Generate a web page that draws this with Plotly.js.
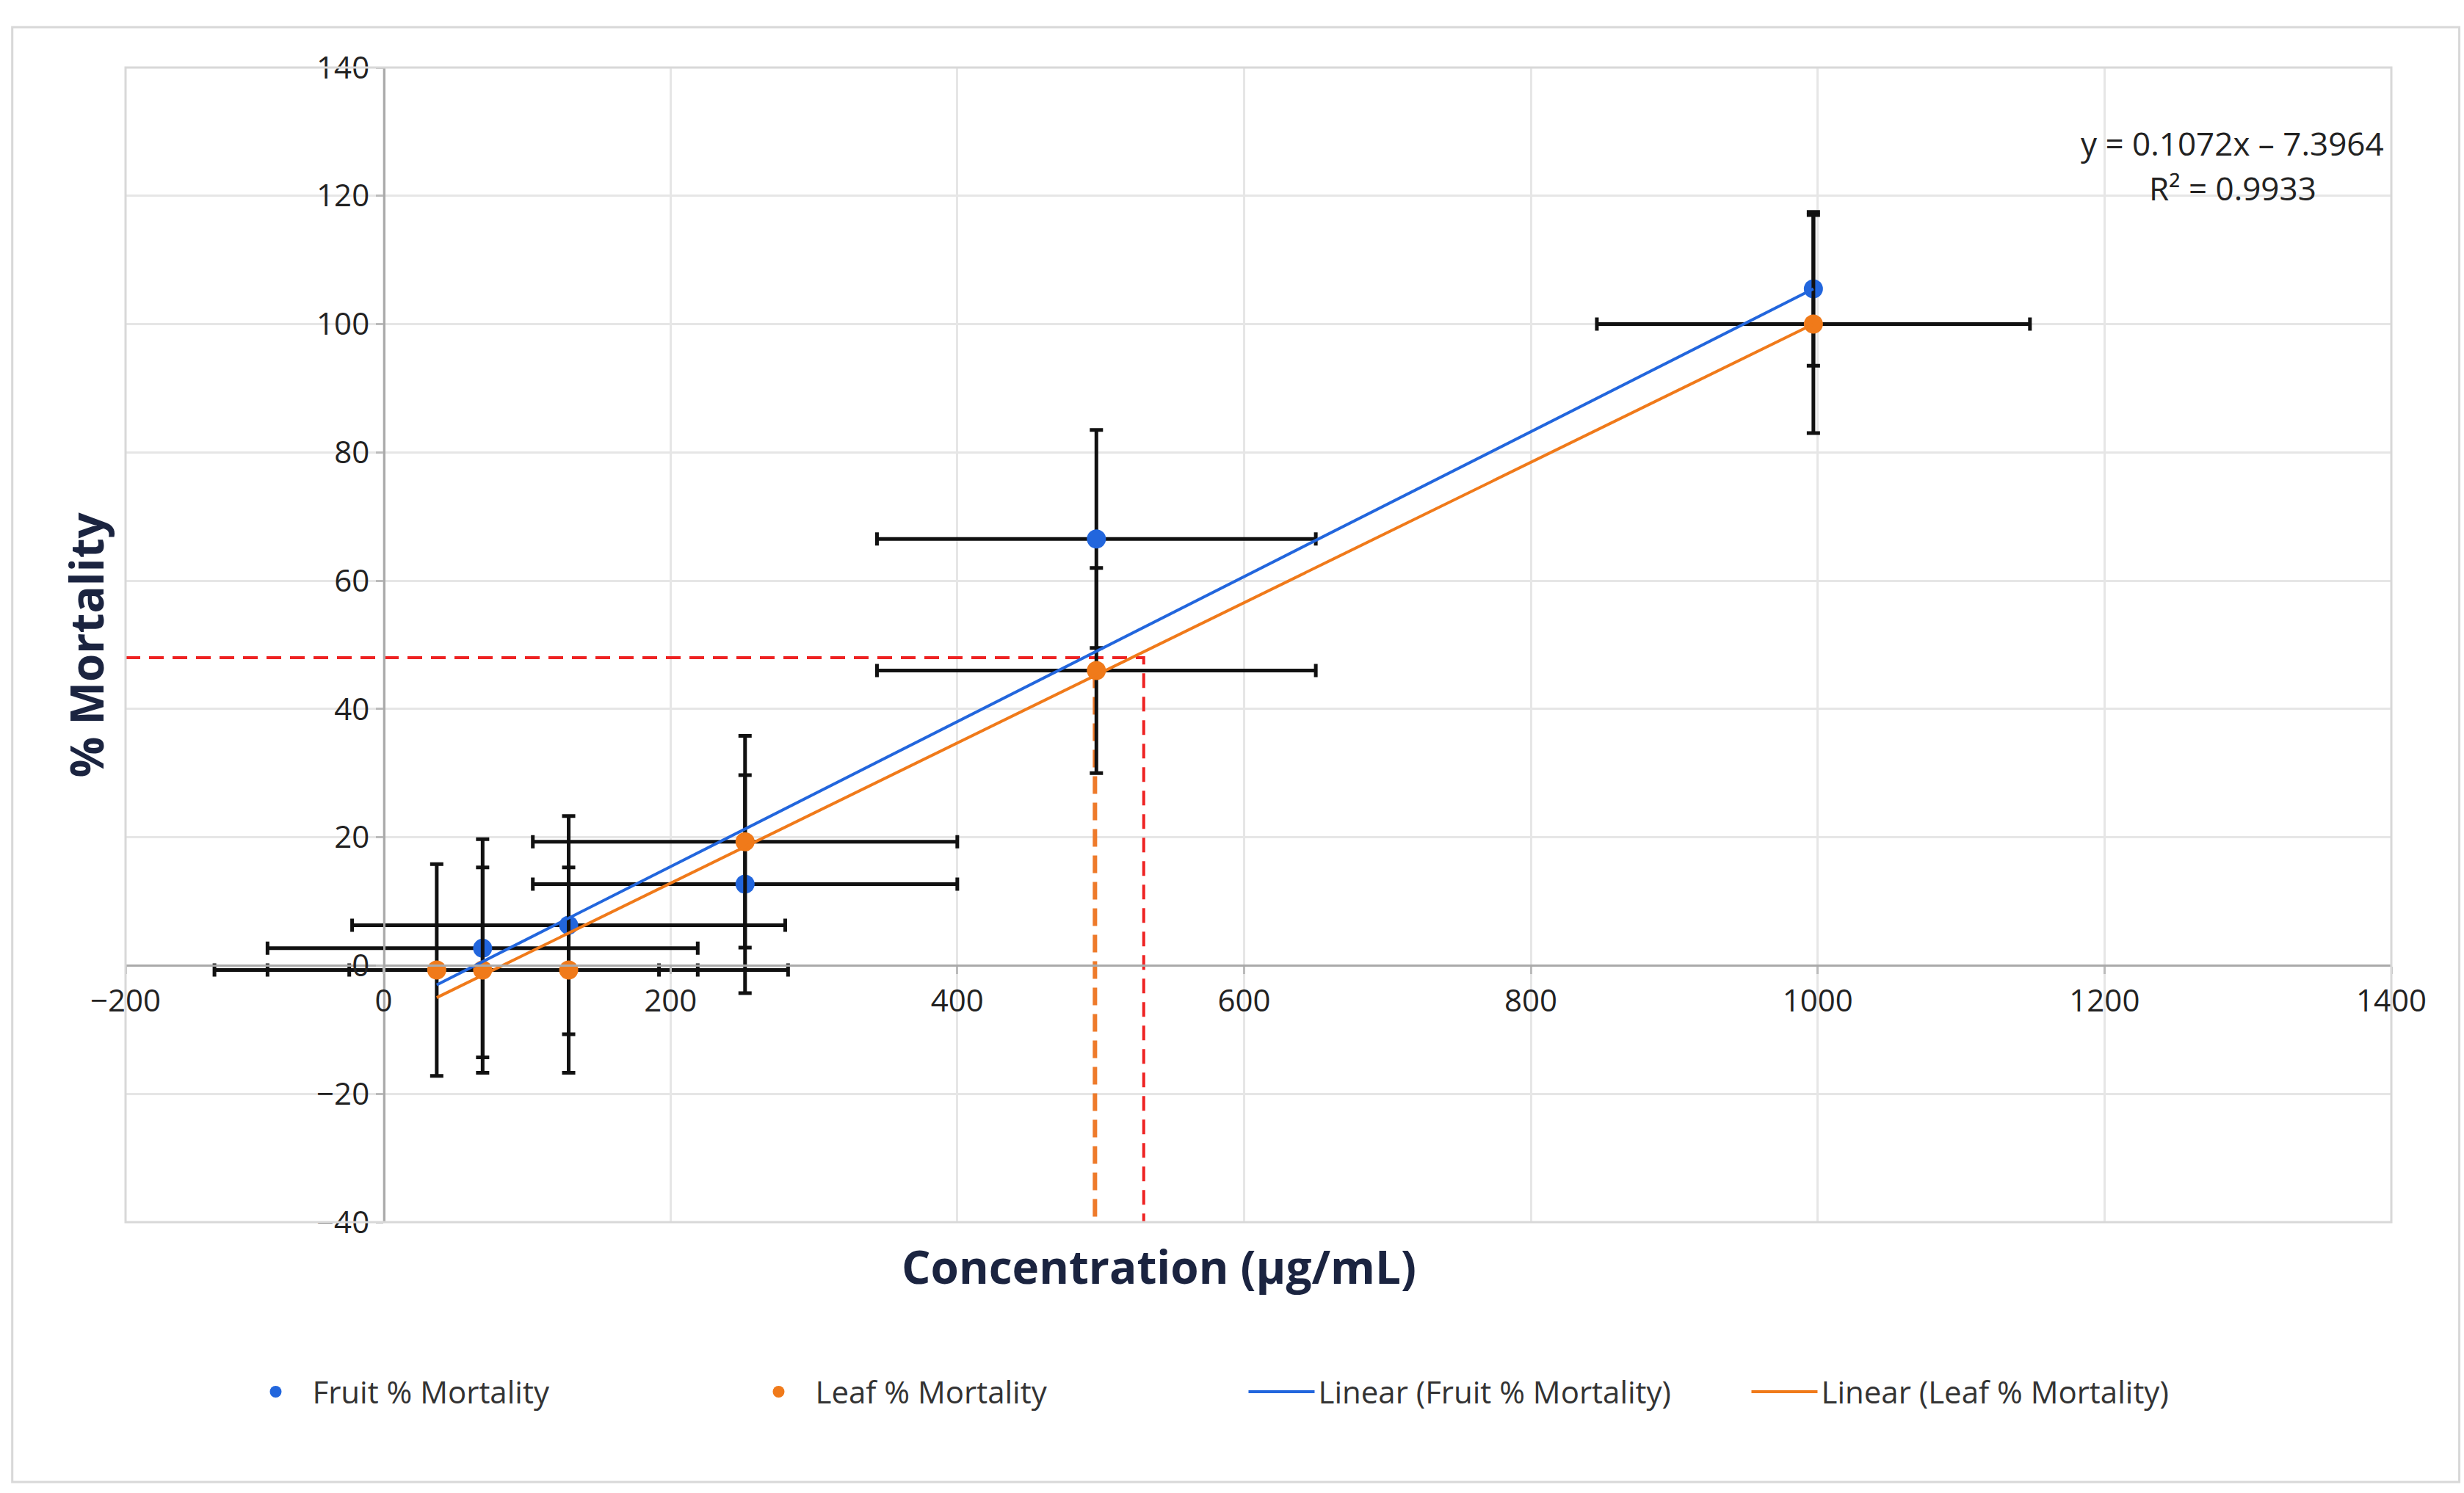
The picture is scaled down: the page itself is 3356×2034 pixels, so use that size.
<!DOCTYPE html>
<html>
<head>
<meta charset="utf-8">
<script src="https://cdn.plot.ly/plotly-3.0.1.min.js"></script>
<style>
  html, body { margin: 0; padding: 0; background: #fff; }
  #chart { width: 3356px; height: 2034px; }
</style>
</head>
<body>
<div id="chart"></div>
<script>
// values
const fruitX    = [69, 129, 252, 497, 997];
const fruitY    = [2.7, 6.3, 12.7, 66.5, 105.5];
const fruitYErr = [17, 17, 17, 17, 12];
const fruitXErr = [150, 151, 148, 153, 0];

const leafX    = [37, 69, 129, 252, 497, 997];
const leafY    = [-0.7, -0.7, -0.7, 19.3, 46, 100];
const leafYErr = [16.5, 16, 16, 16.5, 16, 17];
const leafXErr = [155, 150, 153, 148, 153, 151];

const fruitFitX = [37, 997];
const fruitFitY = [-3, 105.5];
const leafFitX  = [37, 997];
const leafFitY  = [-5, 100];

const lc50Y = 48, lc50X = 530, leafLcX = 496, leafLcY = 46;
const xMin = -180, xMax = 1400, yMin = -40, yMax = 140;
const xTickVals = [-180, 0, 200, 400, 600, 800, 1000, 1200, 1400];
const xTickText = ['\u2212200', '0', '200', '400', '600', '800', '1000', '1200', '1400'];
const yTickVals = [-40, -20, 0, 20, 40, 60, 80, 100, 120, 140];
const yTickText = ['\u221240', '\u221220', '0', '20', '40', '60', '80', '100', '120', '140'];

const NAVY = '#1b2440';
const FONT = 'Open Sans, Noto Sans, sans-serif';
const errStyle = (arr) => ({ type: 'data', array: arr, visible: true, color: '#111', thickness: 5, width: 9 });

const traces = [
  { x: [xMin, lc50X, lc50X], y: [lc50Y, lc50Y, yMin], mode: 'lines',
    line: { color: '#ee2222', width: 4, dash: '20px,12px' }, showlegend: false, hoverinfo: 'skip' },
  { x: [leafLcX, leafLcX], y: [leafLcY, yMin], mode: 'lines',
    line: { color: '#ee7a2a', width: 6, dash: '24px,12px' }, showlegend: false, hoverinfo: 'skip' },
  { x: fruitX, y: fruitY, name: 'Fruit % Mortality', mode: 'markers',
    marker: { color: '#2266dd', size: 26 },
    error_y: errStyle(fruitYErr), error_x: errStyle(fruitXErr) },
  { x: leafX, y: leafY, name: 'Leaf % Mortality', mode: 'markers',
    marker: { color: '#f07a1a', size: 26 },
    error_y: errStyle(leafYErr), error_x: errStyle(leafXErr) },
  { x: fruitFitX, y: fruitFitY, name: 'Linear (Fruit % Mortality)', mode: 'lines',
    line: { color: '#2266dd', width: 4 } },
  { x: leafFitX, y: leafFitY, name: 'Linear (Leaf % Mortality)', mode: 'lines',
    line: { color: '#f07a1a', width: 4 } },
];

function axis(range, vals, text, pos) {
  return {
    range: range, tickvals: vals, ticktext: text, anchor: 'free', position: pos,
    showgrid: true, gridcolor: '#e6e6e6', gridwidth: 3,
    zeroline: false, showline: true, linecolor: '#aaa', linewidth: 3,
    ticks: 'outside', ticklen: 10, tickcolor: '#bbb', tickwidth: 3,
    tickfont: { size: 42, color: '#222', family: FONT },
    fixedrange: true,
  };
}

const xa = axis([xMin, xMax], xTickVals, xTickText, (0 - yMin) / (yMax - yMin));
const ya = axis([yMin, yMax], yTickVals, yTickText, (0 - xMin) / (xMax - xMin));

const layout = {
  width: 3356, height: 2034,
  margin: { l: 171, r: 99, t: 92, b: 369 },
  paper_bgcolor: '#fff', plot_bgcolor: '#fff',
  font: { family: FONT, color: '#222' },
  xaxis: xa, yaxis: ya,
  showlegend: true,
  legend: {
    orientation: 'h', x: 0.494, xanchor: 'center', y: -0.147, yanchor: 'middle',
    font: { size: 42, color: '#333', family: FONT }, itemwidth: 90,
    entrywidth: 580, traceorder: 'normal',
  },
  shapes: [
    { type: 'rect', xref: 'paper', yref: 'paper', x0: 0, x1: 1, y0: 0, y1: 1,
      line: { color: '#d8d8d8', width: 3 } },
    { type: 'rect', xref: 'paper', yref: 'paper', x0: -0.05, x1: 1.03, y0: -0.225, y1: 1.035,
      line: { color: '#d8d8d8', width: 3 } },
  ],
  annotations: [
    { text: 'y = 0.1072x \u2013 7.3964', xref: 'paper', yref: 'paper', x: 0.93, y: 0.955,
      xanchor: 'center', showarrow: false, font: { size: 44, color: '#222' } },
    { text: 'R\u00b2 = 0.9933', xref: 'paper', yref: 'paper', x: 0.93, y: 0.916,
      xanchor: 'center', showarrow: false, font: { size: 44, color: '#222' } },
    { text: '<b>% Mortality</b>', xref: 'paper', yref: 'paper', x: -0.0175, y: 0.5,
      textangle: -90, showarrow: false, xanchor: 'center',
      font: { size: 62, color: NAVY } },
    { text: '<b>Concentration (\u00b5g/mL)</b>', xref: 'paper', yref: 'paper', x: 0.456, y: -0.038,
      showarrow: false, yanchor: 'middle', font: { size: 62, color: NAVY } },
  ],
};

Plotly.newPlot('chart', traces, layout, { displayModeBar: false, staticPlot: true });
</script>
</body>
</html>
